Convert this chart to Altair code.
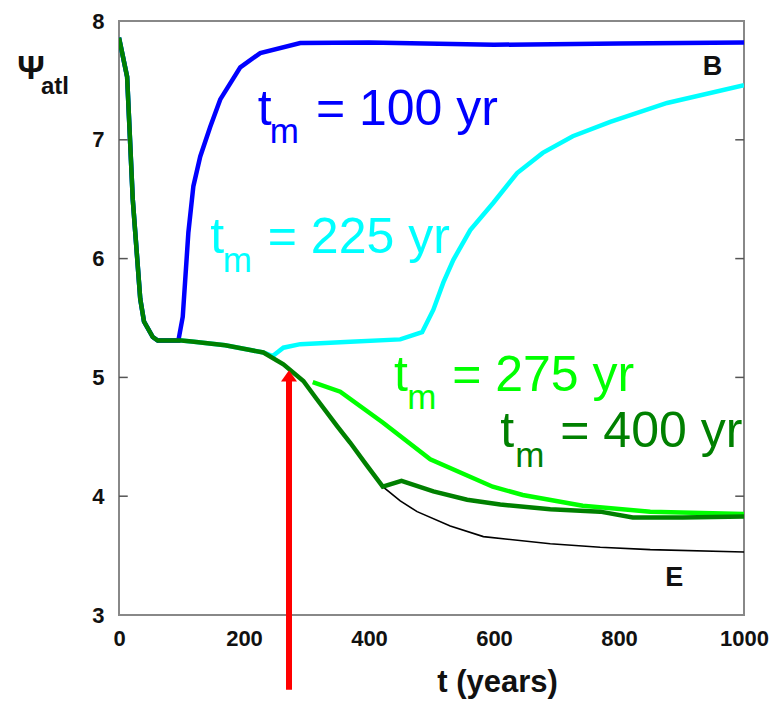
import altair as alt
import pandas as pd

# ---------------- data ----------------
# equilibrium curve E (thin black)
t_E = [0, 13, 22, 34, 40, 54, 62, 100, 120, 170, 210, 231, 263, 295, 316, 349, 370, 395, 422,
       450, 477, 530, 583, 690, 770, 850, 1000]
psi_E = [7.86, 7.53, 6.50, 5.66, 5.47, 5.34, 5.31, 5.31, 5.30, 5.27, 5.23, 5.21, 5.11, 4.97, 4.82, 4.59, 4.45, 4.27, 4.08,
         3.96, 3.87, 3.75, 3.66, 3.60, 3.57, 3.55, 3.53]

# t_m = 400 yr (dark green)
t_400 = [0, 13, 22, 34, 40, 54, 62, 100, 120, 170, 210, 231, 263, 295, 316, 349, 370, 395, 422,
         452, 503, 557, 610, 690, 770, 822, 902, 1000]
psi_400 = [7.86, 7.53, 6.50, 5.66, 5.47, 5.34, 5.31, 5.31, 5.30, 5.27, 5.23, 5.21, 5.11, 4.97, 4.82, 4.59, 4.45, 4.27, 4.08,
           4.13, 4.04, 3.97, 3.93, 3.89, 3.87, 3.82, 3.82, 3.83]

# t_m = 275 yr (light green)
t_275 = [310, 354, 422, 498, 598, 646, 742, 850, 1000]
psi_275 = [4.96, 4.88, 4.62, 4.31, 4.08, 4.01, 3.92, 3.87, 3.85]

# t_m = 225 yr (cyan)
t_225 = [0, 13, 22, 34, 40, 54, 62, 100, 120, 170, 210, 231, 246, 263, 290, 370, 450, 485, 503, 519,
         535, 562, 599, 637, 678, 726, 786, 877, 1000]
psi_225 = [7.86, 7.53, 6.50, 5.66, 5.47, 5.34, 5.31, 5.31, 5.30, 5.27, 5.23, 5.21, 5.18, 5.25, 5.28, 5.30, 5.32, 5.38, 5.57, 5.80,
           5.99, 6.24, 6.47, 6.72, 6.89, 7.03, 7.15, 7.31, 7.46]

# t_m = 100 yr (blue)
t_100 = [0, 13, 22, 34, 40, 54, 62, 95, 102, 111, 119, 130, 146, 162, 194, 226, 290, 400, 600, 800, 1000]
psi_100 = [7.86, 7.53, 6.50, 5.66, 5.47, 5.34, 5.31, 5.31, 5.51, 6.22, 6.61, 6.86, 7.11, 7.34, 7.61, 7.73, 7.815, 7.82, 7.80, 7.81, 7.82]

x_ticks = [0, 200, 400, 600, 800, 1000]
y_ticks = [3, 4, 5, 6, 7, 8]

# annotation texts and their anchor positions (data units)
lab_text = ["t", "m", "= 100 yr",
            "t", "m", "= 225 yr",
            "t", "m", "= 275 yr",
            "t", "m", "= 400 yr"]
lab_t = [222, 241, 315,
         146, 166, 238,
         440, 461, 533,
         610, 634, 706]
lab_psi = [7.126, 6.975, 7.126,
           6.050, 5.891, 6.050,
           4.882, 4.731, 4.882,
           4.412, 4.244, 4.412]
lab_color = ["#0000ff"] * 3 + ["#00ffff"] * 3 + ["#00ff00"] * 3 + ["#008000"] * 3
lab_size = [50, 35, 50] * 4

bold_text = ["B", "E", "\u03a8", "atl"]
bold_t = [934, 874, -163, -125]
bold_psi = [7.546, 3.244, 7.513, 7.387]
bold_size = [27, 27, 34, 24]

arrow_t = [272]
arrow_tail = [2.37]
arrow_tip = [4.99]
arrow_head_psi = [5.013]

FONT = "Liberation Sans"

# ---------------- chart ----------------
xs = alt.Scale(domain=[0, 1000], nice=False, zero=False)
ys = alt.Scale(domain=[3, 8], nice=False, zero=False)

x_axis = alt.Axis(values=x_ticks, format="d", labelFont=FONT, labelFontWeight="bold", labelFontSize=22,
                  labelColor="#111111", ticks=False, domain=False, grid=False, labelPadding=13,
                  labelFlush=False, title="t (years)", titleFont=FONT, titleFontSize=31,
                  titleFontWeight="bold", titleColor="#111111", titleX=378, titleY=76,
                  titleBaseline="alphabetic", titleAlign="center")
y_axis = alt.Axis(values=y_ticks, format="d", labelFont=FONT, labelFontWeight="bold", labelFontSize=22,
                  labelColor="#111111", ticks=False, domain=False, grid=False, labelPadding=15,
                  labelFlush=False, title=None)


def X(field):
    return alt.X(field, scale=xs, axis=x_axis, title="t (years)")


def Y(field):
    return alt.Y(field, scale=ys, axis=y_axis, title=None)


series = [
    (t_E, psi_E, "#000000", 1.6),
    (t_225, psi_225, "#00ffff", 4.5),
    (t_100, psi_100, "#0000ff", 4.5),
    (t_275, psi_275, "#00ff00", 4.5),
    (t_400, psi_400, "#008000", 4.5),
]

layers = []
for ts, ps, col, w in series:
    df = pd.DataFrame({"t": ts, "psi": ps})
    layers.append(
        alt.Chart(df).mark_line(color=col, strokeWidth=w, clip=True).encode(
            x=X("t:Q"), y=Y("psi:Q"),
        )
    )

# inward tick marks on both sides
TICK_LEN = 14
tick_rows = []
for v in y_ticks[1:-1]:
    tick_rows.append({"t": 0, "t2": TICK_LEN, "psi": v})
    tick_rows.append({"t": 1000 - TICK_LEN, "t2": 1000, "psi": v})
ticks = alt.Chart(pd.DataFrame(tick_rows)).mark_rule(color="#555555", strokeWidth=1.5).encode(
    x=X("t:Q"), x2="t2:Q", y=Y("psi:Q"),
)

lab_df = pd.DataFrame({"text": lab_text, "t": lab_t, "psi": lab_psi, "color": lab_color, "size": lab_size})
labels = alt.Chart(lab_df).mark_text(align="left", baseline="alphabetic", font=FONT).encode(
    x=X("t:Q"), y=Y("psi:Q"),
    text="text:N",
    color=alt.Color("color:N", scale=None),
    size=alt.Size("size:Q", scale=None),
)

bold_df = pd.DataFrame({"text": bold_text, "t": bold_t, "psi": bold_psi, "size": bold_size})
bold_labels = alt.Chart(bold_df).mark_text(align="left", baseline="alphabetic", font=FONT,
                                           fontWeight="bold", color="#111111").encode(
    x=X("t:Q"), y=Y("psi:Q"),
    text="text:N",
    size=alt.Size("size:Q", scale=None),
)

arrow_df = pd.DataFrame({"t": arrow_t, "tail": arrow_tail, "tip": arrow_tip, "head": arrow_head_psi})
shaft = alt.Chart(arrow_df).mark_rule(color="#ff0000", strokeWidth=6, clip=False).encode(
    x=X("t:Q"), y=Y("tail:Q"), y2="tip:Q",
)
head = alt.Chart(arrow_df).mark_point(shape="M-1,0.7L0,-0.7L1,0.7Z", size=256, filled=True,
                                      color="#ff0000", opacity=1).encode(
    x=X("t:Q"), y=Y("head:Q"),
)

chart = alt.layer(*layers, ticks, shaft, head, labels, bold_labels).properties(
    width=625, height=594,
    autosize=alt.AutoSizeParams(type="none"),
    padding={"left": 119, "top": 21, "right": 29, "bottom": 86},
    background="white",
).configure_view(stroke="#888888", strokeWidth=2)

chart.save("out.html", embed_options={"renderer": "svg", "actions": False})
